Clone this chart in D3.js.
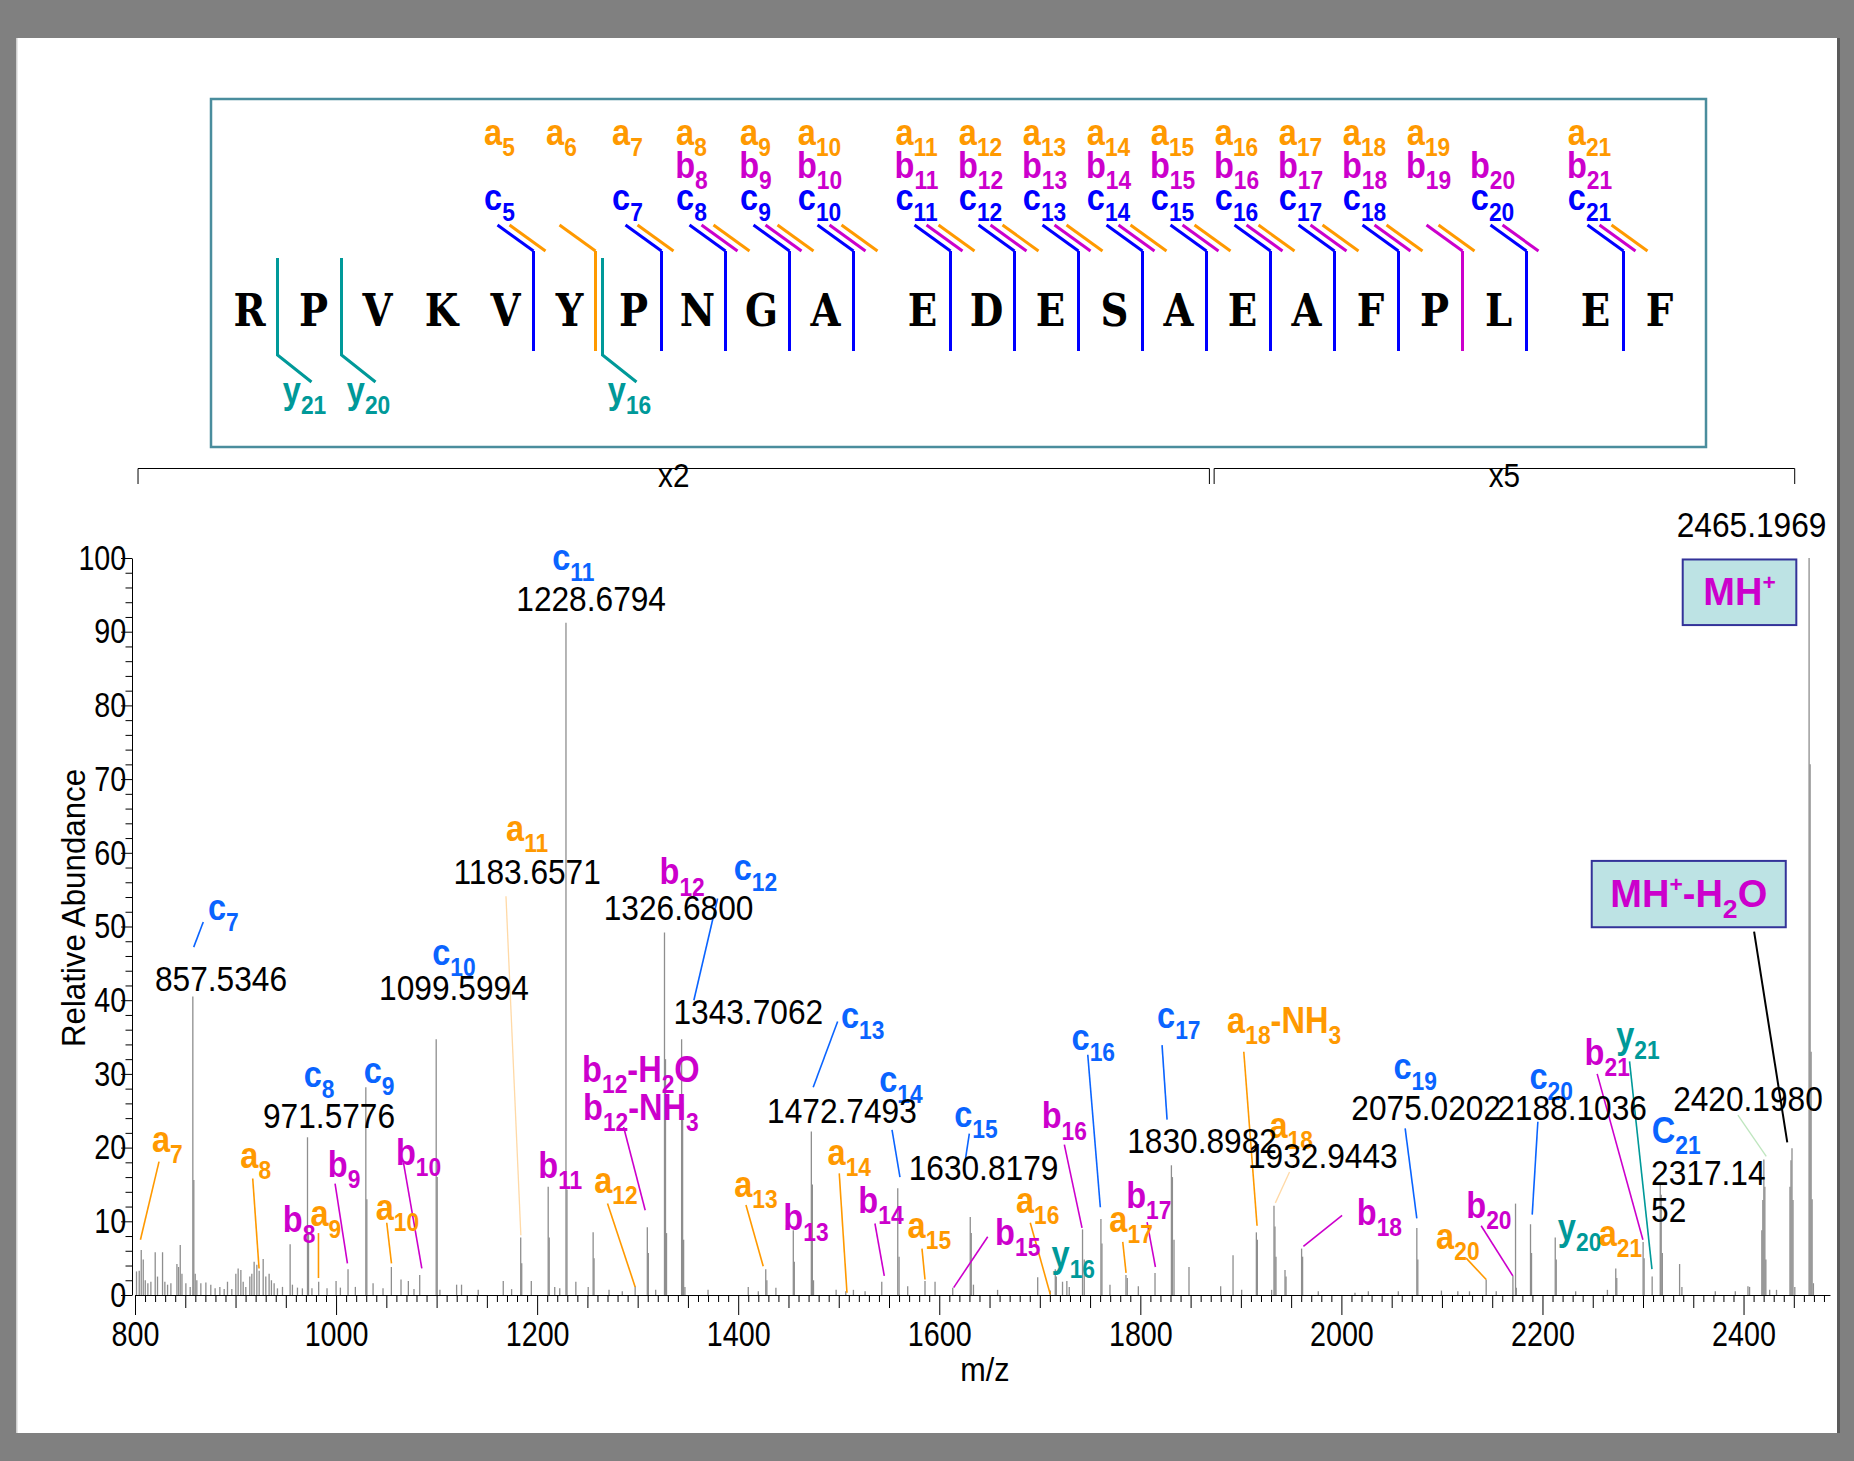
<!DOCTYPE html>
<html>
<head>
<meta charset="utf-8">
<script src="https://cdn.jsdelivr.net/npm/d3@7"></script>
<style>
body{margin:0;background:#808080;}
svg{display:block;}
text{font-family:"Liberation Sans",Arial,sans-serif;}
</style>
</head>
<body>
<svg width="1854" height="1461"></svg>
<script>
// peptide sequence and the fragments seen
var sequence = ["R","P","V","K","V","Y","P","N","G","A","E","D","E","S","A","E","A","F","P","L","E","F"];
var aIons = [5,6,7,8,9,10,11,12,13,14,15,16,17,18,19,21];
var bIons = [8,9,10,11,12,13,14,15,16,17,18,19,20,21];
var cIons = [5,7,8,9,10,11,12,13,14,15,16,17,18,20,21];
var yIons = [21,20,16];

// spectrum (m/z, displayed relative abundance)
var peakMz = [801.5,804.2,806.2,808.2,810.2,812.8,815.8,820.1,822.4,827.4,829.7,832.4,835.7,841.7,843.3,845.0,846.7,850.6,854.9,857.53,858.5,859.9,861.5,865.5,870.5,875.4,879.7,884.4,888.7,892.0,896.3,900.3,902.6,905.3,907.6,910.2,914.2,916.2,918.5,921.2,923.5,927.5,930.1,933.4,935.7,938.4,941.7,946.7,954.3,956.6,961.6,966.5,971.58,972.6,976.0,982.7,991.0,1000.0,1004.3,1011.9,1019.2,1029.6,1030.6,1036.8,1046.7,1055.0,1064.6,1071.9,1077.5,1083.2,1099.6,1100.6,1103.3,1119.9,1124.8,1141.4,1166.3,1174.6,1183.66,1184.66,1194.2,1211.0,1212.0,1217.5,1222.5,1228.68,1229.68,1238.5,1250.8,1255.7,1256.6,1271.5,1284.7,1297.5,1309.6,1310.6,1317.9,1326.68,1327.68,1328.7,1343.71,1344.71,1345.7,1347.0,1370.0,1410.0,1420.0,1427.4,1428.5,1437.5,1454.8,1455.8,1472.75,1473.75,1474.9,1497.4,1507.0,1514.6,1526.2,1542.8,1558.7,1560.0,1568.6,1585.8,1595.8,1613.4,1630.82,1631.8,1634.0,1658.0,1697.9,1710.4,1715.4,1716.4,1722.6,1726.9,1729.3,1742.5,1744.2,1760.8,1761.8,1769.8,1785.7,1787.0,1798.0,1814.6,1830.9,1831.9,1833.5,1848.4,1879.9,1892.2,1900.8,1915.4,1916.4,1930.6,1932.94,1933.9,1934.9,1943.9,1944.9,1960.4,1961.4,1977.0,2013.5,2026.8,2056.6,2075.02,2076.0,2099.5,2115.8,2127.4,2144.0,2154.0,2170.6,2173.2,2174.0,2188.1,2189.1,2212.7,2213.7,2233.0,2264.6,2272.9,2273.9,2300.1,2301.1,2309.1,2317.15,2318.1,2319.2,2336.4,2338.7,2371.9,2391.8,2404.4,2406.0,2418.2,2419.2,2420.2,2421.2,2422.2,2426.0,2432.8,2446.2,2447.19,2448.2,2449.2,2451.0,2465.2,2466.2,2467.2,2468.2,2469.5];
var peakInt = [3.2,3.3,6.1,4.8,2.0,1.6,1.8,5.8,2.5,5.8,1.8,1.4,1.6,4.2,3.8,6.8,2.9,1.6,1.1,40.5,15.6,2.9,2.0,1.6,1.7,1.4,0.9,1.1,0.8,1.8,0.8,2.9,3.6,3.4,1.8,1.1,2.5,2.9,4.5,4.1,3.3,4.9,2.5,2.9,2.0,1.6,0.9,1.1,6.9,1.4,1.0,0.9,21.4,8.4,0.9,1.8,0.9,1.9,1.0,3.5,1.1,28.2,13.0,1.6,0.9,3.8,2.1,1.9,0.8,2.7,34.7,16.0,0.7,1.4,1.4,0.7,1.9,0.8,7.8,4.3,1.9,14.7,7.8,1.1,0.9,91.2,14.3,1.8,1.1,8.5,5.0,0.7,0.5,1.2,9.2,5.7,0.7,49.2,32.0,8.4,34.7,26.0,7.5,1.1,0.7,1.1,0.5,3.5,2.0,1.0,8.8,4.5,22.2,15.0,2.0,0.7,0.5,0.7,0.5,1.8,14.5,5.2,1.2,1.9,1.8,1.0,10.6,8.4,1.4,0.7,2.4,0.6,3.5,2.5,1.8,1.9,1.1,8.9,4.8,10.3,7.0,1.4,2.7,2.3,1.2,3.0,17.6,16.0,7.5,3.8,1.2,5.4,0.7,8.5,7.5,0.7,12.1,9.3,5.2,3.4,2.5,6.3,5.2,0.5,0.3,0.5,0.5,9.1,4.8,0.6,0.5,0.5,2.1,0.5,2.6,12.4,1.0,9.6,5.7,7.8,4.8,0.5,0.7,3.6,2.3,7.2,5.0,2.5,15.0,13.6,5.7,4.2,1.1,0.5,0.5,1.2,1.1,8.8,12.9,18.4,14.7,4.8,0.7,0.7,14.7,18.3,19.9,12.9,1.1,100,72,33,13,1.6];

var xTickLabels = [800,1000,1200,1400,1600,1800,2000,2200,2400];
var yTickLabels = [0,10,20,30,40,50,60,70,80,90,100];
var zoomRanges = [{label:"x2", from:803, to:1868.7}, {label:"x5", from:1873.4, to:2450.9}];

// ion annotations: label anchor (m/z, abundance) and optional leader line
var ionLabels = [
  {t:"c_{7}", ion:"c", mz:887.8, ab:50.9, line:[867.9,50.6,858.4,47.2]},
  {t:"c_{8}", ion:"c", mz:983.1, ab:28.2},
  {t:"c_{9}", ion:"c", mz:1042.8, ab:28.7},
  {t:"c_{10}", ion:"c", mz:1117.2, ab:44.8},
  {t:"c_{11}", ion:"c", mz:1236, ab:98.4},
  {t:"a_{11}", ion:"a", mz:1190.1, ab:61.6},
  {t:"b_{12}", ion:"b", mz:1344.2, ab:55.7},
  {t:"c_{12}", ion:"c", mz:1417.1, ab:56.3, line:[1379.5,53.8,1355.9,40]},
  {t:"c_{13}", ion:"c", mz:1523.8, ab:36.2, line:[1498.9,37.1,1474.6,28.2]},
  {t:"c_{14}", ion:"c", mz:1561.9, ab:27.6, line:[1553,22.4,1560.9,16]},
  {t:"c_{15}", ion:"c", mz:1636.5, ab:22.8, line:[1629.9,21.9,1625.9,18.3]},
  {t:"a_{7}", ion:"a", mz:832.2, ab:19.4, line:[823.9,18.1,805.4,7.5]},
  {t:"a_{8}", ion:"a", mz:920.1, ab:17.2, line:[917.1,15.8,923.4,3.6]},
  {t:"b_{8}", ion:"b", mz:963.2, ab:8.6},
  {t:"a_{9}", ion:"a", mz:989.8, ab:9.3, line:[982.5,8.4,982.5,2.3]},
  {t:"b_{9}", ion:"b", mz:1008, ab:16, line:[999,15.1,1011.3,4.3]},
  {t:"b_{10}", ion:"b", mz:1082, ab:17.6, line:[1067,18,1085.3,3.6]},
  {t:"a_{10}", ion:"a", mz:1061, ab:10.2, line:[1050.4,9.8,1055.1,4.3]},
  {t:"b_{11}", ion:"b", mz:1223, ab:15.9},
  {t:"a_{12}", ion:"a", mz:1278.3, ab:13.8, line:[1270,12.4,1297.5,1.1]},
  {t:"b_{12}-H_{2}O", ion:"b", mz:1303.2, ab:28.9},
  {t:"b_{12}-NH_{3}", ion:"b", mz:1303.2, ab:23.7, line:[1286,22.8,1307.5,11.5]},
  {t:"a_{13}", ion:"a", mz:1417.6, ab:13.3, line:[1407.7,12.2,1424.9,3.9]},
  {t:"b_{13}", ion:"b", mz:1467.4, ab:8.8},
  {t:"a_{14}", ion:"a", mz:1510.5, ab:17.6, line:[1500.5,16.5,1508.2,0.3]},
  {t:"b_{14}", ion:"b", mz:1542, ab:11.1, line:[1536,9.7,1545.3,2.6]},
  {t:"a_{15}", ion:"a", mz:1590.1, ab:7.7, line:[1582.8,6.3,1585.8,2.1]},
  {t:"b_{15}", ion:"b", mz:1678, ab:6.8, line:[1648.2,7.9,1614.3,1]},
  {t:"a_{16}", ion:"a", mz:1697.9, ab:11.1, line:[1690.5,9.8,1710.4,0.1]},
  {t:"y_{16}", ion:"y", mz:1733.3, ab:3.8},
  {t:"b_{16}", ion:"b", mz:1724.4, ab:22.6, line:[1724.4,20.4,1742,9.1]},
  {t:"c_{16}", ion:"c", mz:1753.2, ab:33.2, line:[1747.7,32.6,1760.2,11.9]},
  {t:"a_{17}", ion:"a", mz:1790.8, ab:8.6, line:[1782.5,7.2,1785.8,3]},
  {t:"b_{17}", ion:"b", mz:1808.4, ab:11.8, line:[1806.7,9.9,1815,3.8]},
  {t:"c_{17}", ion:"c", mz:1838.2, ab:36.2, line:[1821.6,33.9,1826.6,23.8]},
  {t:"a_{18}-NH_{3}", ion:"a", mz:1943, ab:35.5, line:[1902.9,33,1916.1,9.4]},
  {t:"a_{18}", ion:"a", mz:1950, ab:21.3},
  {t:"b_{18}", ion:"b", mz:2037.8, ab:9.5, line:[2000.7,10.8,1962.2,6.6]},
  {t:"c_{19}", ion:"c", mz:2073.4, ab:29.3, line:[2063.4,22.6,2075,10.4]},
  {t:"c_{20}", ion:"c", mz:2208.6, ab:28, line:[2195.4,23.5,2189.8,10.9]},
  {t:"a_{20}", ion:"a", mz:2115.8, ab:6.2, line:[2124.1,5,2144,2.1]},
  {t:"b_{20}", ion:"b", mz:2146.7, ab:10.4, line:[2139,9.4,2170.5,2.6]},
  {t:"y_{20}", ion:"y", mz:2236.9, ab:7.5},
  {t:"a_{21}", ion:"a", mz:2277.5, ab:6.6},
  {t:"b_{21}", ion:"b", mz:2264.4, ab:31.2, line:[2254.4,30,2299.9,7.5]},
  {t:"y_{21}", ion:"y", mz:2295, ab:33.5, line:[2286.6,31.7,2308.9,3.5]},
  {t:"C_{21}", ion:"c", mz:2333, ab:20.6}
];

// measured masses written above the peaks
var massLabels = [
  {t:"857.5346", mz:885.5, ab:41.3},
  {t:"971.5776", mz:993, ab:22.6},
  {t:"1099.5994", mz:1117.2, ab:40},
  {t:"1183.6571", mz:1190.1, ab:55.7, line:[1169,54.1,1183.8,8.1], lc:"#ffd9a6"},
  {t:"1228.6794", mz:1253.7, ab:92.8},
  {t:"1326.6800", mz:1340.7, ab:50.9},
  {t:"1343.7062", mz:1410, ab:36.8},
  {t:"1472.7493", mz:1503.2, ab:23.4},
  {t:"1630.8179", mz:1644, ab:15.6},
  {t:"1830.8982", mz:1861.4, ab:19.2},
  {t:"1932.9443", mz:1981.5, ab:17.2, line:[1948.4,16.7,1934.3,12.5], lc:"#ffd9a6"},
  {t:"2075.0202", mz:2084.3, ab:23.7},
  {t:"2188.1036", mz:2229.4, ab:23.7},
  {t:"2420.1980", mz:2404.4, ab:24.9, line:[2394.4,24.4,2422.6,18.8], lc:"#bfe6bf"},
  {t:"2465.1969", mz:2408, ab:102.9}
];
var wrappedMass = {lines:["2317.14","52"], mz:2308, ab:[14.9,9.9]};

var precursorBoxes = [
  {t:"MH^{+}", mz:[2339.5,2452.5], ab:[90.9,99.8]},
  {t:"MH^{+}-H_{2}O", mz:[2249,2442], ab:[49.9,58.9], line:[2410.5,49.3,2443.5,20.7]}
];

var seqColor = {a:"#ff9900", b:"#cc00cc", c:"#0000ff", y:"#009999"};
var specColor = {a:"#ff9900", b:"#cc00cc", c:"#0a64ff", y:"#009999"};

// text with _{sub} and ^{sup} parts
function richText(sel, markup, size) {
  var parts = markup.split(/(_\{[^}]*\}|\^\{[^}]*\})/).filter(function(p){ return p.length; });
  var shift = 0;
  parts.forEach(function(p){
    var target = 0, fs = size, content = p;
    if (p[0] == "_") { target = size*0.3; fs = size*0.7; content = p.slice(2,-1); }
    else if (p[0] == "^") { target = -size*0.4; fs = size*0.6; content = p.slice(2,-1); }
    sel.append("tspan").attr("dy", target - shift).attr("font-size", fs).text(content);
    shift = target;
  });
}
// narrow text: the original uses a condensed face
function narrowText(parent, x, y, size, sx) {
  return parent.append("text")
    .attr("transform","translate("+x+","+y+") scale("+sx+",1)")
    .attr("font-size", size);
}

var svg = d3.select("svg");
svg.append("rect").attr("x",16).attr("y",38).attr("width",1821).attr("height",1395).attr("fill","#fff");
svg.append("rect").attr("x",16).attr("y",38).attr("width",1.5).attr("height",1395).attr("fill","#cfcfcf");
svg.append("rect").attr("x",1837).attr("y",38).attr("width",3).attr("height",1395).attr("fill","#5a5a5a");

//---------------- sequence panel ----------------
var seqTop = svg.append("g");
seqTop.append("rect").attr("x",211).attr("y",99).attr("width",1495).attr("height",348)
  .attr("fill","none").attr("stroke","#4a8d9d").attr("stroke-width",2.5);

var letterX = function(i){ return 249.5 + 64*i + 33*Math.floor(i/10); };
sequence.forEach(function(d,i){
  narrowText(seqTop, letterX(i), 326, 45, 0.86)
    .attr("text-anchor","middle")
    .style("font-family","'DejaVu Serif','Liberation Serif',serif")
    .attr("font-weight","bold")
    .text(d);
});

var sites = d3.range(1, sequence.length).map(function(n){
  var types = [];
  if (cIons.indexOf(n) >= 0) types.push("c");
  if (bIons.indexOf(n) >= 0) types.push("b");
  if (aIons.indexOf(n) >= 0) types.push("a");
  var yn = sequence.length - n;
  return {n:n, types:types, y: yIons.indexOf(yn) >= 0 ? yn : null, vx: letterX(n-1) + 29};
});

var rowY = {a:145, b:178, c:210};
sites.forEach(function(s){
  if (s.types.length) {
    var x0 = s.y ? s.vx - 3 : s.vx - 1;
    seqTop.append("line").attr("x1",x0).attr("x2",x0).attr("y1",251).attr("y2",351)
      .attr("stroke", seqColor[s.types[0]]).attr("stroke-width",3);
    s.types.forEach(function(t,k){
      seqTop.append("line").attr("x1",x0+12*k).attr("y1",251).attr("x2",x0+12*k-36).attr("y2",225)
        .attr("stroke", seqColor[t]).attr("stroke-width",3);
      var lab = narrowText(seqTop, x0-34, rowY[t], 37, 0.88)
        .attr("text-anchor","middle").attr("font-weight","bold").attr("fill", seqColor[t]);
      richText(lab, t + "_{" + s.n + "}", 37);
    });
  }
  if (s.y) {
    var xy = s.types.length ? s.vx + 4 : s.vx - 1;
    seqTop.append("path").attr("d","M"+xy+",258V355L"+(xy+34)+",382")
      .attr("fill","none").attr("stroke", seqColor.y).attr("stroke-width",3);
    var yl = narrowText(seqTop, xy+27, 403, 37, 0.88)
      .attr("text-anchor","middle").attr("font-weight","bold").attr("fill", seqColor.y);
    richText(yl, "y_{" + s.y + "}", 37);
  }
});

//---------------- spectrum ----------------
var x = d3.scaleLinear().domain([800, 2486]).range([135, 1830]);
var y = d3.scaleLinear().domain([0, 100]).range([1295, 558]);

// magnification brackets
zoomRanges.forEach(function(r){
  var x1 = x(r.from), x2 = x(r.to);
  svg.append("path").attr("d","M"+x1+",484V468.5H"+x2+"V484")
    .attr("fill","none").attr("stroke","#000").attr("stroke-width",1);
  narrowText(svg, (x1+x2)/2, 487, 33, 0.9).attr("text-anchor","middle").text(r.label);
});

svg.append("g").selectAll("line").data(d3.range(peakMz.length)).enter().append("line")
  .attr("x1", function(i){ return x(peakMz[i]); })
  .attr("x2", function(i){ return x(peakMz[i]); })
  .attr("y1", y(0))
  .attr("y2", function(i){ return y(peakInt[i]); })
  .attr("stroke","#8e8e8e").attr("stroke-width",1.3);

var xAxis = d3.axisBottom(x).tickValues(d3.range(800, 2481, 10)).tickSizeOuter(0)
  .tickFormat(function(d){ return xTickLabels.indexOf(d) >= 0 ? d : ""; });
var gx = svg.append("g").attr("transform","translate(0,"+y(0)+")").call(xAxis);
gx.selectAll(".tick line").attr("y2", function(d){ return d%200==0 ? 20 : (d%50==0 ? 13 : 7); });
gx.selectAll(".tick text").attr("y",26).attr("font-size",35).attr("transform","scale(0.82,1)");

var yAxis = d3.axisLeft(y).tickValues(d3.range(0, 101, 2)).tickSizeOuter(0)
  .tickFormat(function(d){ return yTickLabels.indexOf(d) >= 0 ? d : ""; });
var gy = svg.append("g").attr("transform","translate(132,0)").call(yAxis);
gy.selectAll(".tick line").attr("x2", function(d){ return d%10==0 ? -11 : -6.5; });
gy.selectAll(".tick text").attr("x",-7).attr("font-size",35).attr("transform","scale(0.82,1)");

svg.append("text").attr("transform","translate(73,908) rotate(-90) scale(0.92,1)")
  .attr("text-anchor","middle").attr("dy","0.35em").attr("font-size",34).text("Relative Abundance");
narrowText(svg, 985, 1381, 34, 0.9).attr("text-anchor","middle").text("m/z");

// leader lines
ionLabels.filter(function(d){ return d.line; }).forEach(function(d){
  svg.append("line").attr("x1",x(d.line[0])).attr("y1",y(d.line[1])).attr("x2",x(d.line[2])).attr("y2",y(d.line[3]))
    .attr("stroke", specColor[d.ion]).attr("stroke-width",1.6);
});
massLabels.filter(function(d){ return d.line; }).forEach(function(d){
  svg.append("line").attr("x1",x(d.line[0])).attr("y1",y(d.line[1])).attr("x2",x(d.line[2])).attr("y2",y(d.line[3]))
    .attr("stroke", d.lc).attr("stroke-width",1.3);
});

ionLabels.forEach(function(d){
  var t = narrowText(svg, x(d.mz), y(d.ab), 37, 0.88)
    .attr("text-anchor","middle").attr("font-weight","bold").attr("fill", specColor[d.ion]);
  richText(t, d.t, 37);
});

massLabels.forEach(function(d){
  narrowText(svg, x(d.mz), y(d.ab), 36, 0.88).attr("text-anchor","middle").text(d.t);
});
wrappedMass.lines.forEach(function(l,i){
  narrowText(svg, x(wrappedMass.mz), y(wrappedMass.ab[i]), 36, 0.88).text(l);
});

// precursor boxes
precursorBoxes.forEach(function(b){
  if (b.line) {
    svg.append("line").attr("x1",x(b.line[0])).attr("y1",y(b.line[1])).attr("x2",x(b.line[2])).attr("y2",y(b.line[3]))
      .attr("stroke","#000").attr("stroke-width",2);
  }
  svg.append("rect").attr("x",x(b.mz[0])).attr("y",y(b.ab[1]))
    .attr("width",x(b.mz[1])-x(b.mz[0])).attr("height",y(b.ab[0])-y(b.ab[1]))
    .attr("fill","#bde3e4").attr("stroke","#333399").attr("stroke-width",2);
  var t = svg.append("text").attr("x",(x(b.mz[0])+x(b.mz[1]))/2).attr("y",(y(b.ab[0])+y(b.ab[1]))/2 + 13)
    .attr("text-anchor","middle").attr("font-weight","bold").attr("fill","#cc00cc");
  richText(t, b.t, 38);
});
</script>
</body>
</html>
